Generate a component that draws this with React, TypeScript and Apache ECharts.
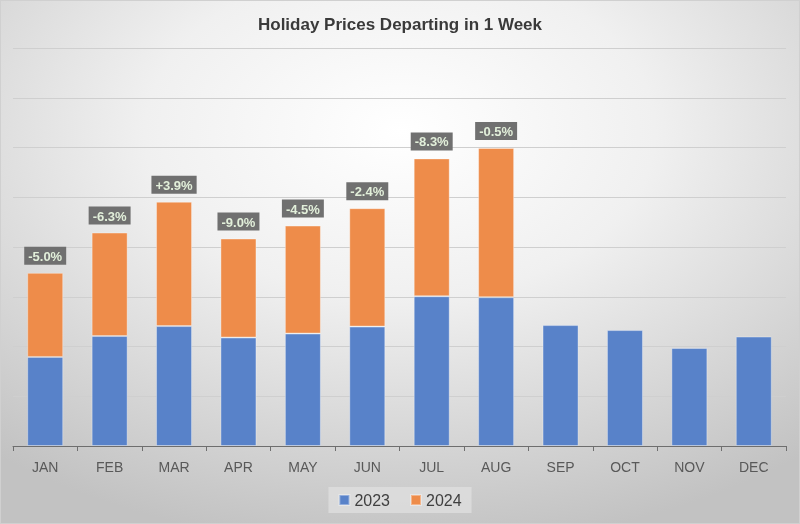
import React, { useEffect, useRef } from "react";
import * as echarts from "echarts";

const categories = ["JAN", "FEB", "MAR", "APR", "MAY", "JUN", "JUL", "AUG", "SEP", "OCT", "NOV", "DEC"];
const values2023 = [1.79, 2.21, 2.41, 2.18, 2.26, 2.40, 3.01, 2.99, 2.43, 2.33, 1.97, 2.20];
const values2024: (number | null)[] = [1.69, 2.08, 2.50, 1.99, 2.17, 2.38, 2.77, 3.00, null, null, null, null];
const changeLabels = ["-5.0%", "-6.3%", "+3.9%", "-9.0%", "-4.5%", "-2.4%", "-8.3%", "-0.5%", "", "", "", ""];

export default function App() {
  const ref = useRef<HTMLDivElement>(null);
  useEffect(() => {
    if (!ref.current) return;
    const chart = echarts.init(ref.current, null, { renderer: "svg" });
    chart.setOption({
      animation: false,
      backgroundColor: {
        type: "radial",
        x: 0.5,
        y: 0.25,
        r: 0.8,
        colorStops: [
          { offset: 0, color: "#ffffff" },
          { offset: 0.4, color: "#f0f0f0" },
          { offset: 1, color: "#c2c2c2" },
        ],
      },
      textStyle: { fontFamily: "Liberation Sans, Arial, sans-serif" },
      title: {
        text: "Holiday Prices Departing in 1 Week",
        left: "center",
        top: 10,
        textStyle: { fontSize: 17, fontWeight: "bold", color: "#3a3a3a", fontFamily: "Liberation Sans" },
      },
      legend: {
        bottom: 10,
        left: "center",
        itemWidth: 10,
        itemHeight: 10,
        itemGap: 20,
        icon: "rect",
        padding: [5, 10],
        backgroundColor: "rgba(225,225,225,0.7)",
        textStyle: { fontSize: 16, color: "#404040" },
        data: ["2023", "2024"],
      },
      grid: { left: 12, right: 13, top: 47, bottom: 77 },
      xAxis: {
        type: "category",
        data: categories,
        axisLine: { lineStyle: { color: "#6e6e6e", width: 1 } },
        axisTick: { show: true, length: 5, lineStyle: { color: "#6e6e6e" } },
        axisLabel: { color: "#595959", fontSize: 14, margin: 14 },
      },
      yAxis: {
        type: "value",
        min: 0,
        max: 8,
        interval: 1,
        axisLabel: { show: false },
        axisLine: { show: false },
        axisTick: { show: false },
        splitLine: { lineStyle: { color: "#cfcfcf" } },
      },
      series: [
        {
          name: "2023",
          type: "bar",
          stack: "total",
          data: values2023,
          barWidth: 36,
          itemStyle: { color: "#5882c9", borderColor: "rgba(255,255,255,0.35)", borderWidth: 1 },
        },
        {
          name: "2024",
          type: "bar",
          stack: "total",
          data: values2024,
          barWidth: 36,
          itemStyle: { color: "#ee8c4a", borderColor: "rgba(255,255,255,0.35)", borderWidth: 1 },
          label: {
            show: true,
            position: "top",
            distance: 8,
            formatter: (p: any) => changeLabels[p.dataIndex],
            backgroundColor: "#707070",
            color: "#e2efda",
            fontSize: 13,
            fontWeight: "bold",
            padding: [3, 4, 2, 4],
          },
        },
      ],
    });
    return () => chart.dispose();
  }, []);
  return (
    <div
      ref={ref}
      style={{ position: "fixed", left: 0, top: 0, width: 800, height: 524, boxSizing: "border-box", border: "1px solid #d0d0d0" }}
    />
  );
}
